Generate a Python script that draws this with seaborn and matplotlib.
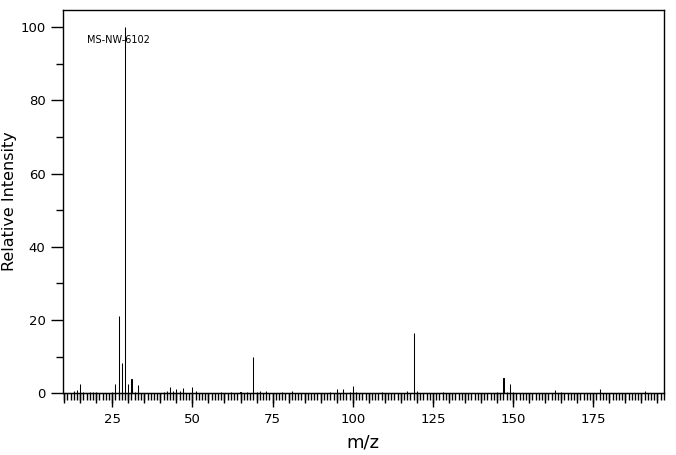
import matplotlib
matplotlib.use("Agg")
import matplotlib.pyplot as plt
import seaborn as sns
import pandas as pd
from matplotlib.ticker import MultipleLocator

# peak list
mz = [13, 14, 15, 16, 18, 19, 20, 25, 26, 27, 28, 29, 30, 31, 32, 33,
      41, 42, 43, 44, 45, 46, 47, 50, 51, 59, 62, 65, 67, 69, 70, 71, 73,
      78, 81, 93, 95, 97, 99, 100, 101, 109, 117, 119, 120, 128,
      145, 147, 148, 149, 150, 163, 165, 177, 191]
intensity = [0.5, 0.9, 2.6, 0.4, 0.4, 0.4, 0.4, 0.4, 2.6, 21.0, 8.1, 100.0, 2.4, 3.9, 0.4, 2.3,
             0.4, 0.7, 1.7, 0.5, 1.2, 0.5, 1.5, 1.7, 0.6, 0.3, 0.4, 0.3, 0.3, 10.0, 0.4, 0.5, 0.6,
             0.4, 0.6, 0.4, 1.0, 1.0, 0.4, 2.0, 0.3, 0.4, 0.6, 16.5, 0.6, 0.4,
             0.4, 4.2, 0.4, 2.6, 0.4, 0.9, 0.4, 1.2, 0.7]
label = "MS-NW-6102"

df = pd.DataFrame({"mz": mz, "intensity": intensity})

sns.set_style("ticks")
plt.rcParams['font.family'] = ['DejaVu Sans']
plt.rcParams['text.color'] = 'black'
plt.rcParams['axes.labelcolor'] = 'black'

fig = plt.figure(figsize=(6.76, 4.55), dpi=100)
ax = fig.add_axes([0.093, 0.136, 0.889, 0.842])

sns.histplot(data=df, x="mz", weights="intensity", discrete=True, shrink=0.02,
             color="black", alpha=1, edgecolor="black", linewidth=0.75, ax=ax)

ax.set_xlim(9.6, 197)
ax.set_ylim(0, 104.7)

ax.xaxis.set_major_locator(MultipleLocator(25))
ax.xaxis.set_minor_locator(MultipleLocator(1))
ax.yaxis.set_major_locator(MultipleLocator(20))
ax.yaxis.set_minor_locator(MultipleLocator(10))
ax.tick_params(axis="both", which="both", colors="black", width=1, direction="out")
ax.tick_params(axis="x", which="major", length=10, labelsize=9.5, pad=4)
ax.tick_params(axis="x", which="minor", length=5)
ax.tick_params(axis="y", which="major", length=9, labelsize=9.5)
ax.tick_params(axis="y", which="minor", length=5)

# medium ticks every 5
sec = ax.secondary_xaxis("bottom")
sec.xaxis.set_major_locator(MultipleLocator(5))
sec.xaxis.set_minor_locator(MultipleLocator(1000))
sec.tick_params(axis="x", which="major", length=7, width=1, colors="black", labelbottom=False)
sec.spines["bottom"].set_color("black")

for s in ax.spines.values():
    s.set_visible(True)
    s.set_linewidth(1)
    s.set_color("black")

ax.set_xlabel("m/z", fontsize=13)
ax.set_ylabel("Relative Intensity", fontsize=11.5)
ax.xaxis.set_label_coords(0.5, -0.105)
ax.yaxis.set_label_coords(-0.077, 0.5)
ax.text(17.2, 96.5, label, fontsize=7, va="center", ha="left")

fig.savefig("out.png", dpi=100)
